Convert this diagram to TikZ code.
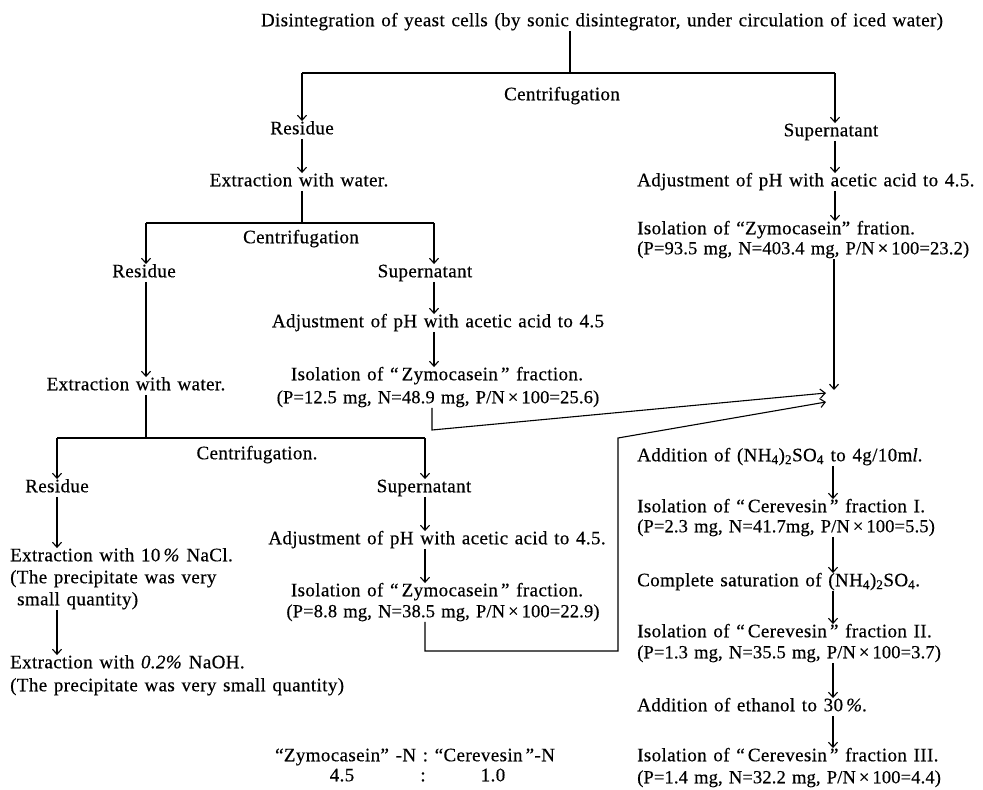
\documentclass[tikz,border=0pt]{standalone}
\usepackage{fontspec}
\setmainfont{Liberation Serif}[LetterSpace=2.0,WordSpace=1.3,FakeBold=0.4]
\newfontfamily\pfont{Liberation Serif}[LetterSpace=0.8,WordSpace=1.3,FakeBold=0.4]
\usetikzlibrary{arrows.meta}
\newcommand{\fs}{\fontsize{19}{19}\selectfont}
\newcommand{\pfs}{\pfont\fontsize{18.5}{18.5}\selectfont}
\newcommand{\sbs}[1]{\textsubscript{#1}}
\begin{document}
\begin{tikzpicture}[x=1pt,y=-1pt,
  txt/.style={inner xsep=1pt, inner ysep=1.5pt, text height=11.5pt, text depth=3pt, font=\fs},
  lt/.style={txt, anchor=west},
  ptxt/.style={txt, font=\pfs},
  plt/.style={lt, font=\pfs},
  arr/.style={line width=1.1pt, -{Straight Barb[length=5pt,width=9pt,line width=1.1pt]}},
  bar/.style={line width=1.8pt},
  ln/.style={line width=1.1pt}]
\path[use as bounding box, fill=white] (0,0) rectangle (983,790);

% ---- level 1
\node[txt] (t) at (602,22) {Disintegration of yeast cells (by sonic disintegrator, under circulation of iced water)};
\coordinate (b1) at (570,73);
\coordinate (b1l) at (302,73);
\coordinate (b1r) at (835,73);
\node[txt] (c1) at (562,96) {Centrifugation};
\node[txt] (r1) at (302,130) {Residue};
\node[txt] (s1) at (831,132) {Supernatant};
\draw[ln] (t.south -| b1) -- (b1);
\draw[bar] (b1l) -- (b1r);
\draw[arr] (b1l) -- (r1.north -| b1l);
\draw[arr] (b1r) -- (s1.north -| b1r);

% ---- right column (top)
\node[lt] (a1) at (636,182) {Adjustment of pH with acetic acid to 4.5.};
\node[lt] (z1) at (636,230) {Isolation of “Zymocasein” fration.};
\node[plt] (z1p) at (636,250) {(P=93.5 mg, N=403.4 mg, P/N\,×\,100=23.2)};
\draw[arr] (s1.south -| b1r) -- (a1.north -| b1r);
\draw[arr] (a1.south -| b1r) -- (z1.north -| b1r);
\coordinate (mv) at (834,390);
\coordinate (m1) at (826,393);
\coordinate (m2) at (826,402);
\draw[arr] (z1p.south -| mv) -- (mv);

% ---- level 2
\node[txt] (e1) at (299,182) {Extraction with water.};
\draw[arr] (r1.south -| b1l) -- (e1.north -| b1l);
\coordinate (b2) at (302,223);
\coordinate (b2l) at (146,223);
\coordinate (b2r) at (434,223);
\draw[ln] (e1.south -| b2) -- (b2);
\draw[bar] (b2l) -- (b2r);
\node[txt] (c2) at (301,239) {Centrifugation};
\node[txt] (r2) at (144,273) {Residue};
\node[txt] (s2) at (425,273) {Supernatant};
\draw[arr] (b2l) -- (r2.north -| b2l);
\draw[arr] (b2r) -- (s2.north -| b2r);
\node[txt] (a2) at (438,323) {Adjustment of pH with acetic acid to 4.5};
\node[txt] (z2) at (437,376) {Isolation of “\,Zymocasein\,” fraction.};
\node[ptxt] (z2p) at (438,399) {(P=12.5 mg, N=48.9 mg, P/N\,×\,100=25.6)};
\draw[arr] (s2.south -| b2r) -- (a2.north -| b2r);
\draw[arr] (a2.south -| b2r) -- (z2.north -| b2r);
\coordinate (k1) at (432,430);
\draw[arr] (z2p.south -| k1) -- (k1) -- (m1);
\node[txt] (e2) at (136,386) {Extraction with water.};
\draw[arr] (r2.south -| b2l) -- (e2.north -| b2l);

% ---- level 3
\coordinate (b3) at (146,438);
\coordinate (b3l) at (57,438);
\coordinate (b3r) at (425,438);
\draw[ln] (e2.south -| b3) -- (b3);
\draw[bar] (b3l) -- (b3r);
\node[txt] (c3) at (257,455) {Centrifugation.};
\node[txt] (r3) at (57,488) {Residue};
\node[txt] (s3) at (424,488) {Supernatant};
\draw[arr] (b3l) -- (r3.north -| b3l);
\draw[arr] (b3r) -- (s3.north -| b3r);
\node[lt] (e3) at (9,557) {Extraction with 10\,\textit{\%} NaCl.};
\node[lt] (e3b) at (9,579) {(The precipitate was very};
\node[lt] (e3c) at (16,601) {small quantity)};
\draw[arr] (r3.south -| b3l) -- (e3.north -| b3l);
\node[lt] (e4) at (9,664) {Extraction with \textit{0.2\%} NaOH.};
\node[lt] (e4b) at (9,687) {(The precipitate was very small quantity)};
\draw[arr] (e3c.south -| b3l) -- (e4.north -| b3l);
\node[txt] (a3) at (437,540) {Adjustment of pH with acetic acid to 4.5.};
\node[txt] (z3) at (437,592) {Isolation of “\,Zymocasein\,” fraction.};
\node[ptxt] (z3p) at (443,613) {(P=8.8 mg, N=38.5 mg, P/N\,×\,100=22.9)};
\draw[arr] (s3.south -| b3r) -- (a3.north -| b3r);
\draw[arr] (a3.south -| b3r) -- (z3.north -| b3r);
\coordinate (k2) at (425,651);
\coordinate (k3) at (618,651);
\coordinate (k4) at (618,438);
\draw[arr] (z3p.south -| k2) -- (k2) -- (k3) -- (k4) -- (m2);

% ---- right column (bottom)
\coordinate (xr) at (833,0);
\node[lt] (n1) at (636,457) {Addition of (NH\sbs{4})\sbs{2}SO\sbs{4} to 4g/10m\textit{l}.};
\node[lt] (f1) at (636,508) {Isolation of “\,Cerevesin\,” fraction I.};
\node[plt] (f1p) at (636,528) {(P=2.3 mg, N=41.7mg, P/N\,×\,100=5.5)};
\node[lt] (n2) at (636,582) {Complete saturation of (NH\sbs{4})\sbs{2}SO\sbs{4}.};
\node[lt] (f2) at (636,633) {Isolation of “\,Cerevesin\,” fraction II.};
\node[plt] (f2p) at (636,654) {(P=1.3 mg, N=35.5 mg, P/N\,×\,100=3.7)};
\node[lt] (n3) at (636,707) {Addition of ethanol to 30\,\textit{\%}.};
\node[lt] (f3) at (636,757) {Isolation of “\,Cerevesin\,” fraction III.};
\node[plt] (f3p) at (636,779) {(P=1.4 mg, N=32.2 mg, P/N\,×\,100=4.4)};
\draw[arr] (n1.south -| xr) -- (f1.north -| xr);
\draw[arr] (f1p.south -| xr) -- (n2.north -| xr);
\draw[arr] (n2.south -| xr) -- (f2.north -| xr);
\draw[arr] (f2p.south -| xr) -- (n3.north -| xr);
\draw[arr] (n3.south -| xr) -- (f3.north -| xr);

% ---- ratio
\node[txt] (q1) at (415,757) {“Zymocasein” -N : “Cerevesin\,”-N};
\node[txt] (q2) at (342,777) {4.5};
\node[txt] (q3) at (423,777) {:};
\node[txt] (q4) at (493,777) {1.0};
\end{tikzpicture}
\end{document}
